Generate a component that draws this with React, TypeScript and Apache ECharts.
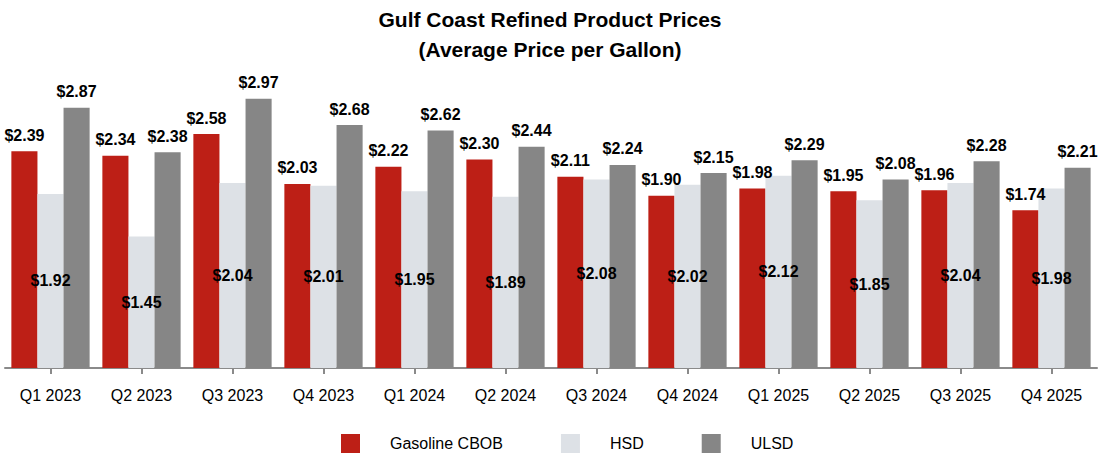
import React, { useEffect, useRef } from "react";
import * as echarts from "echarts";

const categories = ["Q1 2023", "Q2 2023", "Q3 2023", "Q4 2023", "Q1 2024", "Q2 2024", "Q3 2024", "Q4 2024", "Q1 2025", "Q2 2025", "Q3 2025", "Q4 2025"];
const gasolineCBOB = [2.39, 2.34, 2.58, 2.03, 2.22, 2.30, 2.11, 1.90, 1.98, 1.95, 1.96, 1.74];
const hsd = [1.92, 1.45, 2.04, 2.01, 1.95, 1.89, 2.08, 2.02, 2.12, 1.85, 2.04, 1.98];
const ulsd = [2.87, 2.38, 2.97, 2.68, 2.62, 2.44, 2.24, 2.15, 2.29, 2.08, 2.28, 2.21];

const SANS = "'Liberation Sans', Arial, sans-serif";

export default function App() {
  const ref = useRef<HTMLDivElement>(null);
  useEffect(() => {
    document.body.style.margin = "0";
    const chart = echarts.init(ref.current!, undefined, { renderer: "svg" });
    const fmt = (p: any) => "$" + Number(p.value).toFixed(2);
    const lbl = (position: string) => ({
      show: true,
      position,
      distance: 8,
      formatter: fmt,
      color: "#000",
      fontFamily: SANS,
      fontWeight: "bold",
      fontSize: 16,
    });
    chart.setOption({
      animation: false,
      backgroundColor: "#fff",
      title: {
        text: "Gulf Coast Refined Product Prices\n(Average Price per Gallon)",
        left: "center",
        top: 4,
        padding: 0,
        textStyle: { fontFamily: SANS, fontWeight: "bold", fontSize: 21, lineHeight: 30, color: "#000" },
      },
      legend: {
        top: 434,
        left: 341,
        padding: 0,
        itemWidth: 19,
        itemHeight: 19,
        itemGap: 58,
        icon: "rect",
        textStyle: { fontFamily: SANS, fontSize: 16, color: "#000", padding: [0, 0, 0, 25] },
        data: ["Gasoline CBOB", "HSD", "ULSD"],
      },
      grid: { left: 5, right: 3, top: 96, bottom: 91, containLabel: false },
      xAxis: {
        type: "category",
        data: categories,
        axisLine: { lineStyle: { color: "#8a8a8a", width: 2 } },
        axisTick: { show: true, alignWithLabel: true, length: 6, lineStyle: { color: "#8a8a8a", width: 2 } },
        axisLabel: { color: "#000", fontFamily: SANS, fontSize: 16, margin: 19, interval: 0 },
      },
      yAxis: { type: "value", min: 0, max: 3, show: false, splitLine: { show: false } },
      series: [
        { name: "Gasoline CBOB", type: "bar", data: gasolineCBOB, itemStyle: { color: "#bd1f16" }, barGap: "0%", barCategoryGap: "14%", label: lbl("top") },
        { name: "HSD", type: "bar", data: hsd, itemStyle: { color: "#dde1e6" }, barGap: "0%", barCategoryGap: "14%", label: { ...lbl("inside"), distance: 0 } },
        { name: "ULSD", type: "bar", data: ulsd, itemStyle: { color: "#868686" }, barGap: "0%", barCategoryGap: "14%", label: lbl("top") },
      ],
    });
    return () => chart.dispose();
  }, []);
  return <div ref={ref} style={{ width: 1100, height: 459 }} />;
}
